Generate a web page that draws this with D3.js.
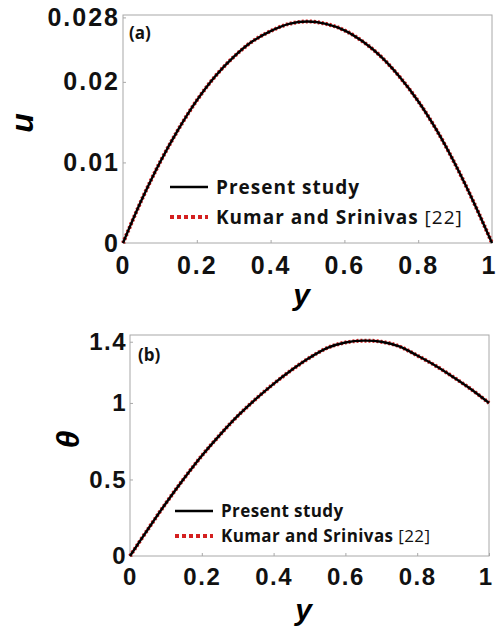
<!DOCTYPE html>
<html lang="en">

<head>
  <meta charset="UTF-8">
  <title>Velocity and temperature profiles</title>
  <script src="https://d3js.org/d3.v7.min.js"></script>
  <style>
    body {
      margin: 0;
      background: #fff;
    }

    .tick text {
      font-family: "Liberation Sans", Arial, sans-serif;
      font-weight: bold;
      fill: #111;
    }

    .legend {
      font-family: "Open Sans", sans-serif;
      font-weight: bold;
      fill: #111;
    }
  </style>
</head>

<body>
  <div id="chart"></div>

  <script>
    // values
    const yPos = [0, 0.05, 0.1, 0.15, 0.2, 0.25, 0.3, 0.35, 0.4, 0.45, 0.5,
      0.55, 0.6, 0.65, 0.7, 0.75, 0.8, 0.85, 0.9, 0.95, 1];
    const uPresent = [0, 0.0053, 0.0100, 0.0141, 0.0177, 0.0207, 0.0231, 0.0250, 0.0263, 0.0272, 0.0275,
      0.0272, 0.0264, 0.0250, 0.0231, 0.0206, 0.0176, 0.0140, 0.0098, 0.0051, 0];
    const uKumar = [0, 0.0053, 0.0100, 0.0141, 0.0177, 0.0207, 0.0231, 0.0250, 0.0263, 0.0272, 0.0275,
      0.0272, 0.0264, 0.0250, 0.0231, 0.0206, 0.0176, 0.0140, 0.0098, 0.0051, 0];
    const thetaPresent = [0, 0.175, 0.345, 0.505, 0.655, 0.79, 0.915, 1.025, 1.125, 1.215, 1.295,
      1.36, 1.395, 1.407, 1.40, 1.37, 1.31, 1.245, 1.17, 1.09, 1.00];
    const thetaKumar = [0, 0.175, 0.345, 0.505, 0.655, 0.79, 0.915, 1.025, 1.125, 1.215, 1.295,
      1.36, 1.395, 1.407, 1.40, 1.37, 1.31, 1.245, 1.17, 1.09, 1.00];

    const xTicks = [0, 0.2, 0.4, 0.6, 0.8, 1];
    const uTicks = [0, 0.01, 0.02, 0.028];
    const thetaTicks = [0, 0.5, 1, 1.4];
    const seriesNames = ["Present study", "Kumar and Srinivas "];

    const svg = d3.select("#chart").append("svg")
      .attr("width", 496)
      .attr("height", 630);

    function drawPanel(p) {
      const g = svg.append("g")
        .attr("transform", `translate(${p.left},${p.top})`);

      const x = d3.scaleLinear().domain([0, 1]).range([0, p.width]);
      const y = d3.scaleLinear().domain([0, p.ymax]).range([p.height, 0]);

      // frame
      g.append("rect")
        .attr("width", p.width)
        .attr("height", p.height)
        .attr("fill", "none")
        .attr("stroke", "#a8a8a8")
        .attr("stroke-width", 1);

      const xAxis = g.append("g")
        .attr("transform", `translate(0,${p.height})`)
        .call(d3.axisBottom(x).tickValues(xTicks).tickFormat(d3.format("~g"))
          .tickSizeInner(-3).tickSizeOuter(0).tickPadding(p.xPad));
      const yAxis = g.append("g")
        .call(d3.axisLeft(y).tickValues(p.yTicks).tickFormat(d3.format("~g"))
          .tickSizeInner(-3).tickSizeOuter(0).tickPadding(3));

      [xAxis, yAxis].forEach(a => {
        a.select(".domain").remove();
        a.selectAll(".tick line").attr("stroke", "#a8a8a8");
        a.selectAll(".tick text")
          .attr("font-size", p.tickSize + "px")
          .style("letter-spacing", p.spacing + "px");
      });
      // last label sits at the window edge
      xAxis.selectAll(".tick text").filter(d => d === 1)
        .attr("dx", "-4px")
        .style("letter-spacing", "0px");

      // curves
      const line = d3.line()
        .x((d, i) => x(yPos[i]))
        .y(d => y(d))
        .curve(d3.curveCatmullRom);

      g.append("path")
        .datum(p.kumar)
        .attr("fill", "none")
        .attr("stroke", "#d42020")
        .attr("stroke-width", 4)
        .attr("stroke-dasharray", "2,2")
        .attr("d", line);

      g.append("path")
        .datum(p.present)
        .attr("fill", "none")
        .attr("stroke", "#000")
        .attr("stroke-width", 2.4)
        .attr("d", line);

      // panel tag
      g.append("text")
        .attr("class", "legend")
        .attr("x", p.tagX)
        .attr("y", p.tagY)
        .attr("font-size", "17px")
        .text(p.tag);

      // legend
      const lg = g.append("g")
        .attr("transform", `translate(${p.legX},${p.legY})`);
      lg.append("line")
        .attr("x1", 0).attr("x2", 38)
        .attr("stroke", "#000").attr("stroke-width", 2.4);
      lg.append("line")
        .attr("x1", 0).attr("x2", 38)
        .attr("y1", p.legGap).attr("y2", p.legGap)
        .attr("stroke", "#d42020").attr("stroke-width", 4)
        .attr("stroke-dasharray", "4,3");
      lg.append("text")
        .attr("class", "legend")
        .attr("x", 46).attr("y", 0).attr("dy", "0.35em")
        .attr("font-size", p.legSize + "px")
        .style("letter-spacing", p.legSpacing + "px")
        .text(seriesNames[0]);
      const t2 = lg.append("text")
        .attr("class", "legend")
        .attr("x", 46).attr("y", p.legGap).attr("dy", "0.35em")
        .attr("font-size", p.legSize + "px")
        .style("letter-spacing", p.legSpacing + "px")
        .text(seriesNames[1]);
      t2.append("tspan")
        .attr("font-weight", "normal")
        .text("[22]");

      // axis titles
      g.append("text")
        .attr("x", p.width / 2 - 6)
        .attr("y", p.height + p.xLabelOff)
        .attr("text-anchor", "middle")
        .attr("font-family", "Liberation Sans, Arial, sans-serif")
        .attr("font-weight", "bold")
        .attr("font-style", "italic")
        .attr("font-size", "30px")
        .text("y");

      g.append("text")
        .attr("transform", `translate(${p.yLabelX},${p.height / 2 - 6}) rotate(-90)`)
        .attr("text-anchor", "middle")
        .attr("dy", "0.35em")
        .attr("font-family", "Liberation Sans, Arial, sans-serif")
        .attr("font-weight", "bold")
        .attr("font-style", "italic")
        .attr("font-size", "32px")
        .text(p.yLabel);
    }

    drawPanel({
      left: 123, top: 15, width: 369, height: 228, ymax: 0.0283,
      yTicks: uTicks, present: uPresent, kumar: uKumar,
      tickSize: 25, spacing: 2, xPad: 13,
      tag: "(a)", tagX: 6, tagY: 24,
      legX: 47, legY: 172, legGap: 30, legSize: 19, legSpacing: 1,
      xLabelOff: 62, yLabelX: -101, yLabel: "u"
    });

    drawPanel({
      left: 130, top: 335, width: 359, height: 221, ymax: 1.444,
      yTicks: thetaTicks, present: thetaPresent, kumar: thetaKumar,
      tickSize: 24, spacing: 1.5, xPad: 12,
      tag: "(b)", tagX: 8, tagY: 26,
      legX: 45, legY: 176, legGap: 25, legSize: 17, legSpacing: 0.4,
      xLabelOff: 64, yLabelX: -62, yLabel: "θ"
    });
  </script>
</body>

</html>
